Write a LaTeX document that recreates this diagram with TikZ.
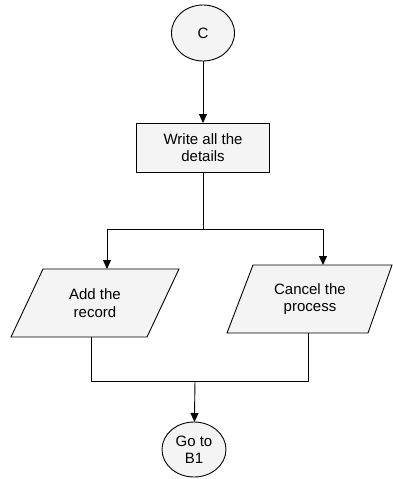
\documentclass[tikz,border=0pt]{standalone}
\usepackage{fontspec}
\setmainfont{Liberation Sans}
\usetikzlibrary{shapes.geometric,arrows.meta}
\definecolor{shapefill}{RGB}{244,244,244}
\begin{document}
\begin{tikzpicture}[x=1pt,y=-1pt,
  every node/.style={font=\fontsize{15}{17.3}\selectfont, align=center, outer sep=0pt},
  base/.style={draw=black, line width=0.9pt, fill=shapefill},
  term/.style={base, ellipse, inner sep=0pt},
  procbox/.style={base, rectangle, inner sep=0pt},
  iotext/.style={inner sep=0pt},
  conn/.style={line width=0.9pt},
  arr/.style={conn, -{Triangle[length=9pt,width=8pt]}}]
\useasboundingbox (0,0) rectangle (393,479);
\node[term, minimum width=63pt, minimum height=56pt] (c) at (203,33) {C};
\node[procbox, minimum width=133pt, minimum height=49pt] (write) at (203,147.5) {Write all the\\details};
% input/output parallelograms
\coordinate (addc) at (95,303);
\coordinate (cancelc) at (310,299);
\draw[base] ([shift={(-52,-34)}]addc) -- ([shift={(84,-34)}]addc) -- ([shift={(52,34)}]addc) -- ([shift={(-84,34)}]addc) -- cycle;
\draw[base] ([shift={(-57,-34)}]cancelc) -- ([shift={(82,-34)}]cancelc) -- ([shift={(58,34)}]cancelc) -- ([shift={(-83,34)}]cancelc) -- cycle;
\node[iotext] (add) at (addc) {Add the\\record};
\node[iotext] (cancel) at (cancelc) {Cancel the\\process};
\node[term, minimum width=64pt, minimum height=55pt] (goto) at (194,449.5) {Go to\\B1};
\coordinate (split) at (203,229);
\coordinate (addin) at (107,269);
\coordinate (cancelin) at (323,265);
\coordinate (addout) at (91,337);
\coordinate (cancelout) at (308,333);
\coordinate (merge) at (195,381);
\draw[arr] (c) -- (write);
\draw[conn] (write) -- (split);
\draw[arr] (split) -| (addin);
\draw[arr] (split) -| (cancelin);
\draw[conn] (addout) |- (merge);
\draw[conn] (cancelout) |- (merge);
\draw[arr] (merge) -- (goto);
\end{tikzpicture}
\end{document}
